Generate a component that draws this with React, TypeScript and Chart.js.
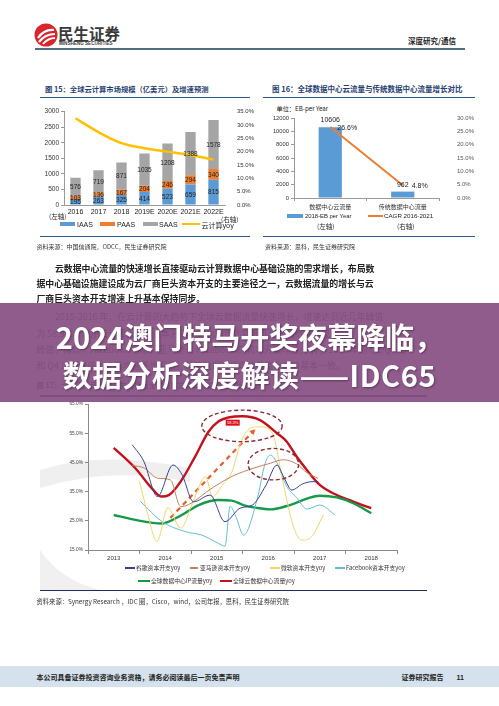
import React, { useEffect, useRef } from 'react';
import { Chart, registerables } from 'chart.js';

Chart.register(...registerables);

const CJK = '"Noto Sans CJK SC", "Noto Sans", sans-serif';
const LAT = '"Liberation Sans", Arial, sans-serif';

// ---------- Figure 15 data ----------
const fig15Years = ['2016', '2017', '2018', '2019E', '2020E', '2021E', '2022E'];
const fig15Iaas = [195, 263, 325, 414, 523, 659, 815];
const fig15Paas = [103, 136, 167, 204, 246, 294, 340];
const fig15Saas = [576, 719, 871, 1035, 1208, 1388, 1578];
const fig15Yoy = [32.5, 27.3, 23.2, 21.3, 20.0, 18.7, 17.0];

// ---------- Figure 16 data ----------
const fig16Cats = ['数据中心云流量', '传统数据中心流量'];
const fig16Traffic = [10606, 962];
const fig16Cagr = [26.6, 4.8];

// ---------- Figure 17 data ----------
const fig17YearTicks = [2013, 2014, 2015, 2016, 2017, 2018];
const googleX = [2013.36, 2013.58, 2013.85, 2014.15, 2014.32, 2014.55, 2014.87, 2015.16, 2015.45, 2015.7, 2015.95, 2016.17, 2016.3, 2016.46, 2016.65, 2016.85, 2016.97];
const googleY = [51.0, 45.5, 33.3, 44.1, 41.0, 31.5, 33.8, 24.7, 29.3, 30.5, 37.0, 44.1, 40.0, 35.5, 37.5, 38.4, 38.4];
const amazonX = [2013.36, 2013.6, 2013.85, 2014.1, 2014.3, 2014.5, 2014.81, 2015.07, 2015.33, 2015.71, 2016.04, 2016.29, 2016.55, 2016.75, 2016.97];
const amazonY = [44.0, 43.0, 39.6, 39.0, 29.8, 31.0, 35.0, 38.0, 40.5, 43.0, 44.7, 45.9, 44.5, 41.5, 39.5];
const msftX = [2013.5, 2013.65, 2013.84, 2014.05, 2014.3, 2014.55, 2014.78, 2014.92, 2015.1, 2015.3, 2015.46, 2015.65, 2015.84, 2016.08, 2016.29, 2016.49, 2016.65, 2016.84, 2017.07];
const msftY = [38.5, 28.0, 17.9, 29.5, 22.5, 32.0, 40.1, 33.3, 37.0, 42.0, 51.5, 56.7, 57.2, 55.0, 37.8, 23.0, 18.4, 19.5, 27.0];
const fbX = [2013.52, 2013.94, 2014.39, 2014.71, 2015.03, 2015.16, 2015.26, 2015.38, 2015.52, 2015.78, 2015.94, 2016.04, 2016.18, 2016.35, 2016.55, 2016.75, 2017.0, 2017.3];
const fbY = [31.6, 24.7, 21.3, 20.1, 17.3, 16.3, 30.0, 26.0, 20.1, 32.1, 44.7, 47.5, 44.5, 37.0, 33.0, 29.0, 30.4, 27.0];
const ipX = [2013.0, 2013.42, 2013.94, 2014.32, 2014.65, 2015.03, 2015.29, 2015.55, 2015.75, 2016.04, 2016.42, 2016.75, 2017.0, 2017.33, 2017.65, 2018.0];
const ipY = [27.0, 25.3, 24.1, 27.0, 30.4, 32.1, 31.9, 30.2, 29.5, 28.9, 30.4, 32.6, 33.6, 33.0, 31.0, 27.6];
const cloudX = [2013.0, 2013.42, 2013.74, 2013.92, 2014.07, 2014.32, 2014.58, 2014.84, 2015.03, 2015.23, 2015.5, 2015.84, 2016.17, 2016.36, 2016.55, 2016.75, 2017.0, 2017.33, 2017.65, 2018.0];
const cloudY = [50.0, 43.0, 36.1, 33.3, 33.8, 39.0, 47.0, 55.5, 59.0, 60.4, 60.8, 59.5, 55.0, 52.1, 47.0, 42.4, 37.3, 33.8, 31.6, 29.3];
const arrowX = [2014.1, 2015.7];
const arrowY = [26.0, 55.5];
const ellipseX = [2015.49, 2016.1];
const ellipseY = [57.5, 44.4];
const ellipseRx = [0.78, 0.49];
const ellipseRy = [5.4, 5.4];
const peakLabelX = [2015.31];
const peakLabelY = [58.6];
const peakLabelText = ['58.3%'];

const xy = (xs: number[], ys: number[]) => xs.map((x, i) => ({ x, y: ys[i] }));

// ---------- plugins ----------
const fig15Labels = {
  id: 'fig15Labels',
  afterDatasetsDraw(chart: any) {
    const ctx = chart.ctx;
    ctx.save();
    ctx.font = `6.5px ${LAT}`;
    ctx.fillStyle = '#222';
    ctx.textAlign = 'center';
    ctx.textBaseline = 'middle';
    chart.data.datasets.forEach((ds: any, i: number) => {
      if (ds.type === 'line') return;
      const meta = chart.getDatasetMeta(i);
      meta.data.forEach((el: any, j: number) => {
        const p = el.getProps(['x', 'y', 'base'], true);
        ctx.fillText(String(ds.data[j]), p.x, (p.y + p.base) / 2 + 0.5);
      });
    });
    ctx.restore();
  },
};

const fig16Labels = {
  id: 'fig16Labels',
  afterDatasetsDraw(chart: any) {
    const ctx = chart.ctx;
    ctx.save();
    ctx.font = `7px ${LAT}`;
    ctx.fillStyle = '#222';
    ctx.textAlign = 'center';
    ctx.textBaseline = 'middle';
    chart.data.datasets.forEach((ds: any, i: number) => {
      const meta = chart.getDatasetMeta(i);
      meta.data.forEach((el: any, j: number) => {
        const p = el.getProps(['x', 'y'], true);
        if (ds.type === 'line') {
          ctx.fillText(ds.data[j].toFixed(1) + '%', p.x + 17, p.y + 1);
        } else {
          ctx.fillText(String(ds.data[j]), p.x, p.y - 7);
        }
      });
    });
    ctx.restore();
  },
};

const fig17Marks = {
  id: 'fig17Marks',
  afterDatasetsDraw(chart: any) {
    const ctx = chart.ctx;
    const xs = chart.scales.x;
    const ys = chart.scales.y;
    ctx.save();
    ctx.strokeStyle = '#8a2a32';
    ctx.lineWidth = 1.4;
    ctx.setLineDash([4, 2.5]);
    ellipseX.forEach((cx, i) => {
      const px = xs.getPixelForValue(cx);
      const py = ys.getPixelForValue(ellipseY[i]);
      const rx = Math.abs(xs.getPixelForValue(cx + ellipseRx[i]) - px);
      const ry = Math.abs(ys.getPixelForValue(ellipseY[i] + ellipseRy[i]) - py);
      ctx.beginPath();
      ctx.ellipse(px, py, rx, ry, 0, 0, Math.PI * 2);
      ctx.stroke();
    });
    ctx.setLineDash([]);
    peakLabelX.forEach((lx, i) => {
      const px = xs.getPixelForValue(lx);
      const py = ys.getPixelForValue(peakLabelY[i]);
      ctx.fillStyle = '#e0101a';
      ctx.fillRect(px - 7, py - 3, 14, 6);
      ctx.fillStyle = '#fff';
      ctx.font = `4px ${LAT}`;
      ctx.textAlign = 'center';
      ctx.textBaseline = 'middle';
      ctx.fillText(peakLabelText[i], px, py + 0.3);
    });
    ctx.restore();
  },
};

function ChartCanvas(props: { left: number; top: number; width: number; height: number; make: () => any }) {
  const ref = useRef<HTMLCanvasElement>(null);
  useEffect(() => {
    const chart = new Chart(ref.current as HTMLCanvasElement, props.make());
    return () => chart.destroy();
  }, []);
  return (
    <canvas
      ref={ref}
      width={props.width}
      height={props.height}
      style={{ position: 'absolute', left: props.left, top: props.top, width: props.width, height: props.height }}
    />
  );
}

const makeFig15 = () => ({
  type: 'bar',
  data: {
    labels: fig15Years,
    datasets: [
      { type: 'line', label: '云计算yoy', data: fig15Yoy, yAxisID: 'y1', borderColor: '#ffc000', borderWidth: 2.5, pointRadius: 0, tension: 0.35, order: 0 },
      { label: 'IAAS', data: fig15Iaas, backgroundColor: '#5b9bd5', stack: 's', order: 1, barPercentage: 0.45, categoryPercentage: 1 },
      { label: 'PAAS', data: fig15Paas, backgroundColor: '#ed7d31', stack: 's', order: 1, barPercentage: 0.45, categoryPercentage: 1 },
      { label: 'SAAS', data: fig15Saas, backgroundColor: '#a5a5a5', stack: 's', order: 1, barPercentage: 0.45, categoryPercentage: 1 },
    ],
  },
  options: {
    responsive: false,
    animation: false,
    devicePixelRatio: 1,
    layout: { padding: { top: 7, left: 0, right: 0, bottom: 0 } },
    plugins: { legend: { display: false }, tooltip: { enabled: false } },
    scales: {
      x: {
        stacked: true,
        grid: { display: false, drawTicks: false },
        border: { display: true, color: '#9a9a9a' },
        ticks: { font: { size: 7, family: LAT }, color: '#222', padding: 3, maxRotation: 0, autoSkip: false },
        afterFit: (s: any) => { s.height = 15; },
      },
      y: {
        stacked: true,
        min: 0,
        max: 3000,
        ticks: { stepSize: 500, callback: (v: any) => String(v), font: { size: 6.5, family: LAT }, color: '#333', padding: 2 },
        grid: { drawOnChartArea: false, tickLength: 3, color: '#9a9a9a' },
        border: { color: '#9a9a9a' },
        afterFit: (s: any) => { s.width = 29; },
      },
      y1: {
        position: 'right',
        min: 0,
        max: 35,
        ticks: { stepSize: 5, callback: (v: any) => Number(v).toFixed(1) + '%', font: { size: 6, family: LAT }, color: '#333', padding: 4 },
        grid: { display: false },
        border: { display: false },
        afterFit: (s: any) => { s.width = 30; },
      },
    },
  },
  plugins: [fig15Labels],
});

const makeFig16 = () => ({
  type: 'bar',
  data: {
    labels: fig16Cats,
    datasets: [
      { type: 'line', label: 'CAGR 2016-2021', data: fig16Cagr, yAxisID: 'y1', borderColor: '#ed7d31', borderWidth: 2, pointRadius: 0, order: 0 },
      { label: '2018-EB per Year', data: fig16Traffic, backgroundColor: '#5b9bd5', order: 1, barPercentage: 0.32, categoryPercentage: 1 },
    ],
  },
  options: {
    responsive: false,
    animation: false,
    devicePixelRatio: 1,
    layout: { padding: { top: 14, left: 0, right: 0, bottom: 0 } },
    plugins: { legend: { display: false }, tooltip: { enabled: false } },
    scales: {
      x: {
        grid: { display: true, drawOnChartArea: false, offset: true, tickLength: 3, color: '#9a9a9a' },
        border: { display: true, color: '#9a9a9a' },
        ticks: { font: { size: 6, family: CJK }, color: '#333', padding: 2, maxRotation: 0, autoSkip: false },
        afterFit: (s: any) => { s.height = 14; },
      },
      y: {
        min: 0,
        max: 12000,
        ticks: { stepSize: 2000, callback: (v: any) => String(v), font: { size: 5.8, family: LAT }, color: '#333', padding: 2 },
        grid: { drawOnChartArea: false, tickLength: 3, color: '#9a9a9a' },
        border: { color: '#9a9a9a' },
        afterFit: (s: any) => { s.width = 34; },
      },
      y1: {
        position: 'right',
        min: 0,
        max: 30,
        ticks: { stepSize: 5, callback: (v: any) => Number(v).toFixed(1) + '%', font: { size: 6, family: LAT }, color: '#555', padding: 10 },
        grid: { display: false },
        border: { display: false },
        afterFit: (s: any) => { s.width = 36; },
      },
    },
  },
  plugins: [fig16Labels],
});

const thin = (label: string, xs: number[], ys: number[], color: string) => ({
  label,
  data: xy(xs, ys),
  borderColor: color,
  borderWidth: 1,
  pointRadius: 0,
  cubicInterpolationMode: 'monotone',
});

const makeFig17 = () => ({
  type: 'line',
  data: {
    datasets: [
      thin('谷歌资本开支yoy', googleX, googleY, '#3a3f92'),
      thin('亚马逊资本开支yoy', amazonX, amazonY, '#c8805a'),
      thin('微软资本开支yoy', msftX, msftY, '#f2d46a'),
      thin('Facebook资本开支yoy', fbX, fbY, '#62bcd8'),
      { label: '全球数据中心IP流量yoy', data: xy(ipX, ipY), borderColor: '#159a4a', borderWidth: 2.4, pointRadius: 0, cubicInterpolationMode: 'monotone' },
      { label: '全球云数据中心流量yoy', data: xy(cloudX, cloudY), borderColor: '#c3121c', borderWidth: 2.4, pointRadius: 0, cubicInterpolationMode: 'monotone' },
      {
        label: 'trend',
        data: xy(arrowX, arrowY),
        borderColor: '#e2602e',
        backgroundColor: '#e2602e',
        borderWidth: 2.2,
        borderDash: [5, 4],
        pointStyle: 'triangle',
        pointRadius: [0, 3.5],
        pointRotation: [0, 44],
        pointBorderWidth: 0,
        tension: 0,
      },
    ],
  },
  options: {
    responsive: false,
    animation: false,
    devicePixelRatio: 1,
    layout: { padding: { top: 6, left: 0, right: 13, bottom: 0 } },
    plugins: { legend: { display: false }, tooltip: { enabled: false } },
    scales: {
      x: {
        type: 'linear',
        min: fig17YearTicks[0] - 0.5,
        max: fig17YearTicks[fig17YearTicks.length - 1] + 0.5,
        ticks: {
          stepSize: 0.5,
          autoSkip: false,
          maxRotation: 0,
          font: { size: 6, family: LAT },
          color: '#333',
          padding: 1,
          callback: (v: any) => {
            const n = Number(v);
            return fig17YearTicks.some((t) => Math.abs(t - n) < 1e-6) ? String(Math.round(n)) : '';
          },
        },
        grid: {
          drawOnChartArea: false,
          tickLength: 4,
          tickColor: (c: any) => {
            const v = c.tick ? c.tick.value : 0;
            return Math.abs(v - Math.round(v)) < 1e-6 ? 'rgba(0,0,0,0)' : '#8a8a8a';
          },
        },
        border: { display: true, color: '#8a8a8a' },
        afterFit: (s: any) => { s.height = 14; },
      },
      y: {
        min: 15,
        max: 65,
        ticks: { stepSize: 10, callback: (v: any) => Number(v).toFixed(1) + '%', font: { size: 4.8, family: LAT }, color: '#444', padding: 2 },
        grid: { drawOnChartArea: false, tickLength: 3, color: '#8a8a8a' },
        border: { color: '#8a8a8a' },
        afterFit: (s: any) => { s.width = 48; },
      },
    },
  },
  plugins: [fig17Marks],
});

const abs = (left: number, top: number, extra: any = {}) => ({ position: 'absolute' as const, left, top, ...extra });

function Txt(props: { x: number; y: number; size: number; children: any; color?: string; weight?: number; family?: string; lh?: number; w?: number; align?: string; op?: number }) {
  const lh = props.lh ?? props.size * 1.6;
  return (
    <div
      style={{
        position: 'absolute',
        left: props.x,
        top: props.y - lh / 2,
        height: lh,
        lineHeight: lh + 'px',
        fontSize: props.size,
        color: props.color ?? '#222',
        fontWeight: props.weight ?? 400,
        fontFamily: props.family ?? CJK,
        whiteSpace: 'nowrap',
        width: props.w,
        textAlign: (props.align as any) ?? 'left',
        opacity: props.op ?? 1,
      }}
    >
      {props.children}
    </div>
  );
}

function Swatch(props: { x: number; y: number; w: number; h: number; color: string }) {
  return <div style={abs(props.x, props.y - props.h / 2, { width: props.w, height: props.h, background: props.color })} />;
}

function HLine(props: { x1: number; x2: number; y: number; color: string; t?: number }) {
  const t = props.t ?? 1;
  return <div style={abs(props.x1, props.y - t / 2, { width: props.x2 - props.x1, height: t, background: props.color })} />;
}

const bannerLine = (top: number, spacing: number) =>
  abs(0, top, {
    width: 499,
    height: 40,
    lineHeight: '40px',
    textAlign: 'center',
    color: '#fff',
    fontSize: 29,
    fontWeight: 700,
    fontFamily: CJK,
    whiteSpace: 'nowrap',
    letterSpacing: spacing,
    textShadow: '1px 1px 2px rgba(40,10,40,0.45)',
  });

export default function App() {
  const paraFont = 8.9;
  return (
    <div style={{ position: 'absolute', left: 0, top: 0, width: 499, height: 706, background: '#fff', overflow: 'hidden', fontFamily: CJK }}>
      {/* header */}
      <svg style={abs(34, 23)} width={24} height={24} viewBox="0 0 24 24">
        <circle cx="12" cy="12" r="11.5" fill="#d8262e" />
        <path d="M4 15 Q10 6 20 7" stroke="#fff" strokeWidth="2.2" fill="none" />
        <path d="M5 19 Q11 11 21 11" stroke="#fff" strokeWidth="2.2" fill="none" />
        <path d="M9 21 Q14 15 21 15" stroke="#fff" strokeWidth="1.8" fill="none" />
      </svg>
      <Txt x={58} y={33} size={15.5} weight={700} color="#3a3a3a" lh={18}>民生证券</Txt>
      <Txt x={59} y={44} size={4.6} weight={700} color="#3a3a3a" family={LAT} lh={6}>MINSHENG SECURITIES</Txt>
      <Txt x={408} y={41} size={7.5} weight={700} color="#222" lh={10}>深度研究/通信</Txt>
      <HLine x1={35} x2={465} y={49} color="#4f6f80" t={1.5} />

      {/* figure titles */}
      <Txt x={45} y={89} size={7.3} weight={700} color="#1f3f73" lh={10}>图 15：全球云计算市场规模（亿美元）及增速预测</Txt>
      <HLine x1={40} x2={250} y={97.3} color="#2d5a8a" t={1.3} />
      <Txt x={272} y={89} size={7.5} weight={700} color="#1f3f73" lh={10}>图 16：全球数据中心云流量与传统数据中心流量增长对比</Txt>
      <HLine x1={263} x2={475} y={97.3} color="#2d5a8a" t={1.3} />

      {/* fig 15 */}
      <ChartCanvas left={35} top={104} width={220} height={116} make={makeFig15} />
      <Txt x={49} y={216} size={6.5} color="#222" lh={8}>(左轴)</Txt>
      <Swatch x={60} y={224} w={15} h={4} color="#5b9bd5" />
      <Txt x={77} y={224} size={7} family={LAT} lh={9}>IAAS</Txt>
      <Swatch x={100} y={224} w={15} h={4} color="#ed7d31" />
      <Txt x={117} y={224} size={7} family={LAT} lh={9}>PAAS</Txt>
      <Swatch x={143} y={224} w={15} h={4} color="#a5a5a5" />
      <Txt x={159} y={224} size={7} family={LAT} lh={9}>SAAS</Txt>
      <Swatch x={182} y={224} w={18} h={2.5} color="#ffc000" />
      <Txt x={201.5} y={225} size={7} lh={9}>云计算yoy</Txt>
      <Txt x={221} y={218.5} size={6.5} lh={8}>(右轴)</Txt>
      <HLine x1={40} x2={250} y={236.7} color="#2d5a8a" t={1.3} />

      {/* fig 16 */}
      <Txt x={276.5} y={109} size={6.2} lh={8} color="#222">单位：EB-per Year</Txt>
      <ChartCanvas left={260} top={104} width={215} height={108} make={makeFig16} />
      <Swatch x={287} y={216} w={16} h={4} color="#5b9bd5" />
      <Txt x={305} y={216} size={5.9} family={LAT} lh={8}>2018-EB per Year</Txt>
      <Swatch x={368} y={216} w={15} h={1.5} color="#ed7d31" />
      <Txt x={384} y={216} size={6.2} family={LAT} lh={8}>CAGR 2016-2021</Txt>
      <Txt x={317} y={225.5} size={6.5} lh={8}>(左轴)</Txt>
      <Txt x={397} y={225.5} size={6.5} lh={8}>(右轴)</Txt>
      <HLine x1={263} x2={475} y={236.7} color="#2d5a8a" t={1.3} />

      {/* sources */}
      <Txt x={36.5} y={246.7} size={6} lh={8} color="#333">资料来源：中国信通院，ODCC，民生证券研究院</Txt>
      <Txt x={265} y={246.7} size={6} lh={8} color="#333">资料来源：思科，民生证券研究院</Txt>

      {/* paragraph */}
      <Txt x={55} y={268} size={paraFont} weight={700} lh={15}>云数据中心流量的快速增长直接驱动云计算数据中心基础设施的需求增长，布局数</Txt>
      <Txt x={36.5} y={283} size={paraFont} weight={700} lh={15}>据中心基础设施建设成为云厂商巨头资本开支的主要途径之一，云数据流量的增长与云</Txt>
      <Txt x={36.5} y={298} size={paraFont} weight={700} lh={15}>厂商巨头资本开支增速上升基本保持同步。</Txt>

      {/* paragraph under the banner */}
      <Txt x={55} y={316.7} size={paraFont} lh={15} color="#333">2015-2016 年，在云计算的大趋势下全球云数据流量快速增长，增速达到近几年峰值</Txt>
      <Txt x={36.5} y={333.3} size={paraFont} lh={15} color="#333">为 58.3%，同期云计算巨头的资本开支增速也同步达到近几年的高点并出现</Txt>
      <Txt x={36.5} y={349.5} size={paraFont} lh={15} color="#333">峰值，微软、Facebook 谷歌、亚马逊和 Facebook 的资本开支增速分别于 2016 年的 Q2/Q3/Q4</Txt>
      <Txt x={36.5} y={365.5} size={paraFont} lh={15} color="#333">和 Q4 达到峰值，之后增速逐步回落，与云数据流量增速的变化趋势基本一致。</Txt>
      <Txt x={36.5} y={385} size={7.3} weight={700} color="#1f3f73" lh={10}>图 17：全球云厂商资本开支增速与全球云数据中心流量增速对比及布局</Txt>
      <HLine x1={40} x2={427} y={396} color="#1f2f5a" t={1.3} />

      {/* fig 17 watermark */}
      <svg style={abs(40, 430)} width={200} height={160} viewBox="0 0 200 160">
        <path d="M0 40 Q60 20 150 38 L150 52 Q70 36 0 58 Z" fill="#efefef" />
        <path d="M0 120 Q20 150 60 160 L0 160 Z" fill="#f0f0f0" />
      </svg>

      {/* fig 17 */}
      <ChartCanvas left={40} top={398} width={370} height={166} make={makeFig17} />
      <Swatch x={125} y={568} w={10} h={1.2} color="#3a3f92" />
      <Txt x={136} y={568} size={5.8} lh={8} color="#333">谷歌资本开支yoy</Txt>
      <Swatch x={190} y={568} w={8} h={1.2} color="#c8805a" />
      <Txt x={200} y={568} size={5.8} lh={8} color="#333">亚马逊资本开支yoy</Txt>
      <Swatch x={270} y={568} w={10} h={1.2} color="#f2d46a" />
      <Txt x={281} y={568} size={5.8} lh={8} color="#333">微软资本开支yoy</Txt>
      <Swatch x={335} y={568} w={10} h={1.2} color="#62bcd8" />
      <Txt x={346} y={568} size={5.8} lh={8} color="#333">Facebook资本开支yoy</Txt>
      <Swatch x={138} y={580.7} w={12} h={2} color="#159a4a" />
      <Txt x={151} y={580.7} size={5.8} lh={8} color="#333">全球数据中心IP流量yoy</Txt>
      <Swatch x={220} y={580.7} w={12} h={2} color="#c3121c" />
      <Txt x={233} y={580.7} size={5.8} lh={8} color="#333">全球云数据中心流量yoy</Txt>
      <HLine x1={40} x2={427} y={590.7} color="#1f2f5a" t={1.3} />
      <Txt x={36.5} y={601.7} size={6.3} lh={8} color="#333">资料来源：Synergy Research ，IDC 圈，Cisco，wind，公司年报，思科，民生证券研究院</Txt>

      {/* footer */}
      <div style={abs(0, 666, { width: 499, height: 21, background: '#d5e2ed' })} />
      <Txt x={36.5} y={677} size={7} weight={700} lh={9} color="#222">本公司具备证券投资咨询业务资格，请务必阅读最后一页免责声明</Txt>
      <Txt x={401.5} y={677} size={7} weight={700} lh={9} color="#222">证券研究报告</Txt>
      <Txt x={456.5} y={677} size={7} weight={700} lh={9} color="#222" family={LAT}>11</Txt>

      {/* purple banner */}
      <div style={abs(0, 303.3, { width: 499, height: 98.4, background: 'rgba(134,80,130,0.93)' })} />
      <div style={bannerLine(315.5, 0)}>2024澳门特马开奖夜幕降临，</div>
      <div style={bannerLine(354, 0.6)}>数据分析深度解读——IDC65</div>
    </div>
  );
}
